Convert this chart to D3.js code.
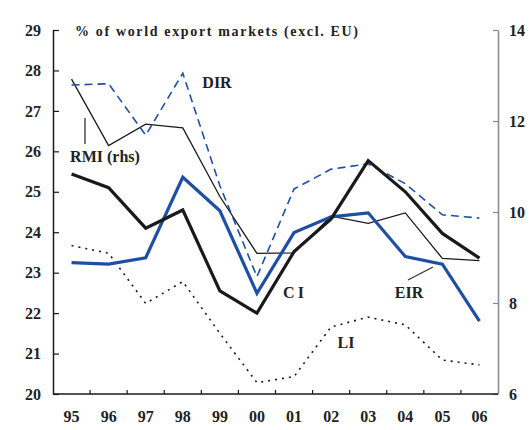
<!DOCTYPE html>
<html>
<head>
<meta charset="utf-8">
<script src="https://cdn.jsdelivr.net/npm/d3@7"></script>
<style>
    body { margin: 0; background: #fff; }
    svg { display: block; }
    text { font-family: 'Liberation Serif', 'Times New Roman', serif; font-weight: bold; fill: #222; }
</style>
</head>
<body>
<div id="chart"></div>
<script>
const years = ['95', '96', '97', '98', '99', '00', '01', '02', '03', '04', '05', '06'];

// left hand scale, % of world export markets
const ci = [25.44, 25.1, 24.1, 24.55, 22.55, 22.0, 23.52, 24.33, 25.77, 25.0, 23.97, 23.36];
const eir = [23.25, 23.21, 23.37, 25.36, 24.53, 22.49, 23.99, 24.38, 24.48, 23.4, 23.21, 21.8];
const dir = [27.64, 27.67, 26.4, 27.93, 25.15, 22.9, 25.07, 25.56, 25.69, 25.2, 24.43, 24.35];
const li = [23.67, 23.48, 22.24, 22.78, 21.5, 20.28, 20.43, 21.66, 21.9, 21.71, 20.84, 20.72];

// right hand scale
const rmi = [12.92, 11.46, 11.93, 11.85, 10.34, 9.09, 9.1, 9.91, 9.75, 9.98, 8.98, 8.93];

const leftTicks = [20, 21, 22, 23, 24, 25, 26, 27, 28, 29];
const rightTicks = [6, 8, 10, 12, 14];

const width = 531;
const height = 430;
const plotL = 53, plotR = 498, plotT = 30, plotB = 394;
const blue = '#1f4fa3';
const dark = '#1a1a1a';

const svg = d3.select('#chart')
    .append('svg')
    .attr('width', width)
    .attr('height', height);

const x = d3.scaleBand().domain(years).range([plotL, plotR]).padding(0);
const y = d3.scaleLinear().domain([20, 29]).range([plotB, plotT]);
const y2 = d3.scaleLinear().domain([6, 14]).range([plotB, plotT]);

const cx = d => x(d) + x.bandwidth() / 2;

// axes
const leftAxis = svg.append('g')
    .attr('transform', `translate(${plotL},0)`)
    .call(d3.axisLeft(y).tickValues(leftTicks).tickFormat(d3.format('d'))
        .tickSizeInner(-6).tickSizeOuter(0).tickPadding(12));
leftAxis.select('.domain').attr('stroke', dark).attr('stroke-width', 1.5);
leftAxis.selectAll('.tick line').attr('stroke', dark).attr('stroke-width', 1.2);
leftAxis.selectAll('text').style('font-size', '16px').attr('fill', '#222');

const rightAxis = svg.append('g')
    .attr('transform', `translate(${plotR},0)`)
    .call(d3.axisRight(y2).tickValues(rightTicks).tickFormat(d3.format('d'))
        .tickSizeInner(-5).tickSizeOuter(0).tickPadding(11));
rightAxis.select('.domain').attr('stroke', '#888').attr('stroke-width', 1.5);
rightAxis.selectAll('.tick line').attr('stroke', '#888').attr('stroke-width', 1.2);
rightAxis.selectAll('text').style('font-size', '16px').attr('fill', '#222');

// bottom axis, ticks between the years
const bottomAxis = svg.append('g');
bottomAxis.append('line')
    .attr('x1', plotL).attr('x2', plotR)
    .attr('y1', plotB).attr('y2', plotB)
    .attr('stroke', dark).attr('stroke-width', 1.5);
bottomAxis.selectAll('.sep')
    .data(years.slice(1))
    .join('line')
    .attr('class', 'sep')
    .attr('x1', d => x(d)).attr('x2', d => x(d))
    .attr('y1', plotB).attr('y2', plotB - 4)
    .attr('stroke', dark).attr('stroke-width', 1.2);
bottomAxis.selectAll('.yr')
    .data(years)
    .join('text')
    .attr('class', 'yr')
    .attr('x', cx)
    .attr('y', 422)
    .attr('text-anchor', 'middle')
    .style('font-size', '16px')
    .text(d => d);

// series
const lineL = d3.line().x((d, i) => cx(years[i])).y(d => y(d));
const lineR = d3.line().x((d, i) => cx(years[i])).y(d => y2(d));

const series = [
    { values: li, gen: lineL, color: dark, w: 1.6, dash: '2,5' },
    { values: rmi, gen: lineR, color: dark, w: 1.3, dash: null },
    { values: dir, gen: lineL, color: blue, w: 1.6, dash: '8,5' },
    { values: eir, gen: lineL, color: blue, w: 3.2, dash: null },
    { values: ci, gen: lineL, color: dark, w: 3.2, dash: null }
];

svg.append('g')
    .selectAll('path')
    .data(series)
    .join('path')
    .attr('d', d => d.gen(d.values))
    .attr('fill', 'none')
    .attr('stroke', d => d.color)
    .attr('stroke-width', d => d.w)
    .attr('stroke-dasharray', d => d.dash)
    .attr('stroke-linejoin', 'miter');

// title
svg.append('text')
    .attr('x', 75)
    .attr('y', 36)
    .attr('textLength', 283)
    .attr('lengthAdjust', 'spacing')
    .style('font-size', '14px')
    .text('% of world export markets (excl. EU)');

// series labels
const labels = [
    { text: 'DIR', x: 217, y: 87.5 },
    { text: 'RMI (rhs)', x: 105, y: 161.5 },
    { text: 'CI', x: 295, y: 297.5, ls: 3 },
    { text: 'EIR', x: 409, y: 297.5 },
    { text: 'LI', x: 346, y: 348 }
];
svg.selectAll('.lbl')
    .data(labels)
    .join('text')
    .attr('class', 'lbl')
    .attr('x', d => d.x)
    .attr('y', d => d.y)
    .attr('text-anchor', 'middle')
    .style('font-size', '16px')
    .style('letter-spacing', d => d.ls ? d.ls + 'px' : null)
    .text(d => d.text);

// pointer lines
svg.append('line')
    .attr('x1', 85).attr('x2', 85).attr('y1', 118).attr('y2', 144)
    .attr('stroke', '#333').attr('stroke-width', 1.3);
svg.append('line')
    .attr('x1', 408).attr('x2', 433).attr('y1', 280).attr('y2', 267)
    .attr('stroke', '#333').attr('stroke-width', 1.3);
</script>
</body>
</html>
